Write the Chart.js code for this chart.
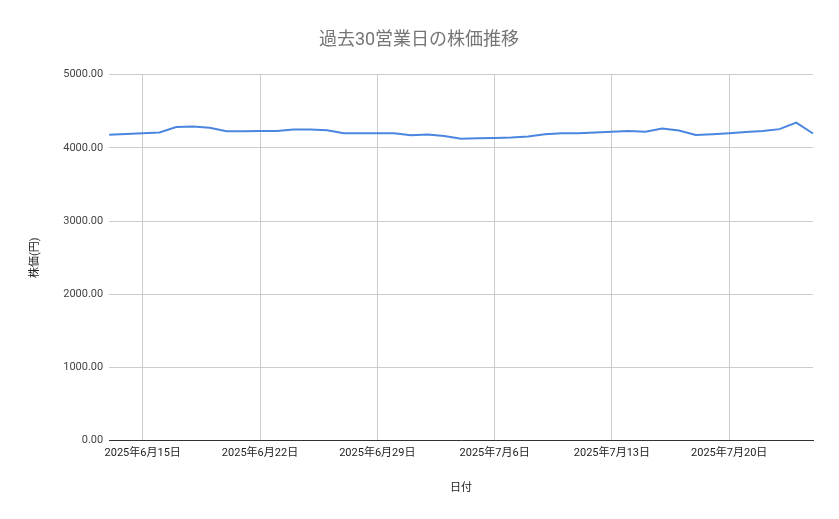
<!DOCTYPE html>
<html><head><meta charset="utf-8">
<script src="https://cdn.jsdelivr.net/npm/chart.js@4"></script>
<style>body{margin:0;background:#fff}#w{width:839px;height:519px}</style>
</head><body><div id="w"><canvas id="c"></canvas></div>
<script>
const dates = ["6/13","6/14","6/15","6/16","6/17","6/18","6/19","6/20","6/21","6/22","6/23","6/24","6/25","6/26","6/27","6/28","6/29","6/30","7/1","7/2","7/3","7/4","7/5","7/6","7/7","7/8","7/9","7/10","7/11","7/12","7/13","7/14","7/15","7/16","7/17","7/18","7/19","7/20","7/21","7/22","7/23","7/24","7/25"];
const prices = [4178,4190,4200,4210,4285,4290,4275,4225,4225,4228,4230,4250,4250,4240,4200,4200,4200,4200,4170,4180,4160,4125,4130,4135,4140,4155,4185,4200,4200,4210,4220,4230,4220,4265,4235,4175,4185,4200,4215,4230,4255,4345,4195];
const labels = dates.map(d => { const [m, day] = d.split('/'); return `2025年${m}月${day}日`; });
const F = "Roboto, 'Noto Sans CJK JP', sans-serif";
new Chart(document.getElementById('c'), {
  type: 'line',
  data: { labels, datasets: [{ data: prices, borderColor: '#4a86e0', borderWidth: 2, pointRadius: 0, tension: 0 }] },
  options: {
    responsive: true, maintainAspectRatio: false, animation: false,
    layout: { padding: { left: 25, right: 26, top: 8, bottom: 20 } },
    plugins: {
      legend: { display: false },
      title: { display: true, text: '過去30営業日の株価推移', color: '#757575', font: { family: F, size: 18, weight: 'normal' }, padding: { top: 22, bottom: 23 } }
    },
    scales: {
      x: {
        offset: false,
        title: { display: true, text: '日付', color: '#222', font: { family: F, size: 11 }, padding: { top: 16 } },
        grid: { color: ctx => (ctx.index % 7 === 2 ? '#cccccc' : 'rgba(0,0,0,0)'), drawTicks: false },
        border: { color: '#333' },
        ticks: { autoSkip: false, maxRotation: 0, color: '#222', font: { family: F, size: 11 }, padding: 6,
          callback: function(v, i) { return i % 7 === 2 ? labels[i] : ''; } }
      },
      y: {
        min: 0, max: 5000,
        title: { display: true, text: '株価(円)', color: '#222', font: { family: F, size: 11 }, padding: { bottom: 15 } },
        grid: { color: '#cccccc', drawTicks: false },
        border: { display: false },
        ticks: { stepSize: 1000, color: '#444', font: { family: F, size: 11 }, padding: 6, callback: v => v.toFixed(2) }
      }
    }
  }
});
</script></body></html>
